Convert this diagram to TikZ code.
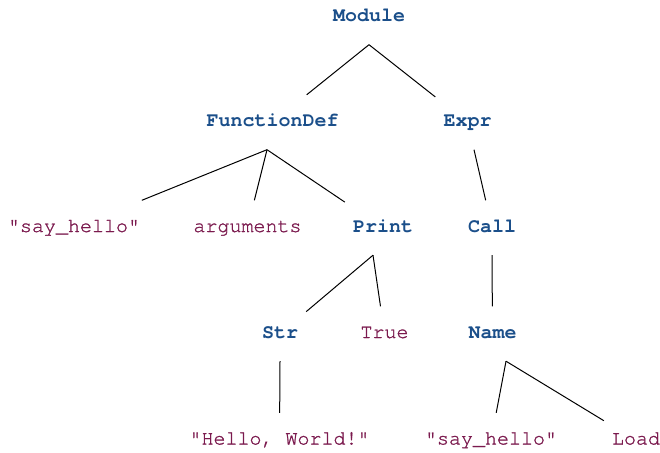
\documentclass[tikz,border=0pt]{standalone}
\usepackage{fontspec}
\setmonofont{TeX Gyre Cursor}
\newfontfamily\leaffont{TeX Gyre Cursor}[FakeBold=1.2]
\definecolor{astblue}{HTML}{1B4F8A}
\definecolor{astred}{HTML}{7B1A4E}
\tikzset{
    astnode/.style={font=\fontsize{20}{20}\ttfamily\bfseries, text=astblue,
        text height=12pt, text depth=3.5pt, inner ysep=19.5pt, inner xsep=8pt},
    astleaf/.style={astnode, font=\fontsize{20}{20}\leaffont, text=astred},
    edge/.style={line width=1pt, black}
}

\begin{document}
\begin{tikzpicture}[x=1pt, y=-1pt]
        \useasboundingbox (0,0) rectangle (660,452);

        \node[astnode] (module) at (369,17.25) {Module};

        \node[astnode] (fdef) at (272.5,122.25) {FunctionDef};
        \node[astnode] (expr) at (467.5,122.25) {Expr};

        \node[astleaf] (fname) at (74,227.75) {"say\_hello"};
        \node[astleaf] (args) at (247.5,227.75) {arguments};
        \node[astnode] (print) at (383,227.75) {Print};
        \node[astnode] (call) at (492,227.75) {Call};

        \node[astnode] (str) at (280,333.75) {Str};
        \node[astleaf] (true) at (384.5,333.75) {True};
        \node[astnode] (name) at (492.5,333.75) {Name};

        \node[astleaf] (hello) at (279.5,440.25) {"Hello, World!"};
        \node[astleaf] (nameid) at (491,440.25) {"say\_hello"};
        \node[astleaf] (load) at (636,440.25) {Load};

        \draw[edge] (module.south) -- (fdef);
        \draw[edge] (module.south) -- (expr);

        \draw[edge] ([xshift=-5.5pt]fdef.south) -- (fname);
        \draw[edge] ([xshift=-5.5pt]fdef.south) -- (args);
        \draw[edge] ([xshift=-5.5pt]fdef.south) -- (print);
        \draw[edge] ([xshift=6.5pt]expr.south) -- (call);

        \draw[edge] ([xshift=-10pt]print.south) -- (str);
        \draw[edge] ([xshift=-10pt]print.south) -- (true);
        \draw[edge] (call.south) -- (name);

        \draw[edge] (str.south) -- (hello);
        \draw[edge] ([xshift=13.5pt]name.south) -- (nameid);
        \draw[edge] ([xshift=13.5pt]name.south) -- (load);
    \end{tikzpicture}
\end{document}
